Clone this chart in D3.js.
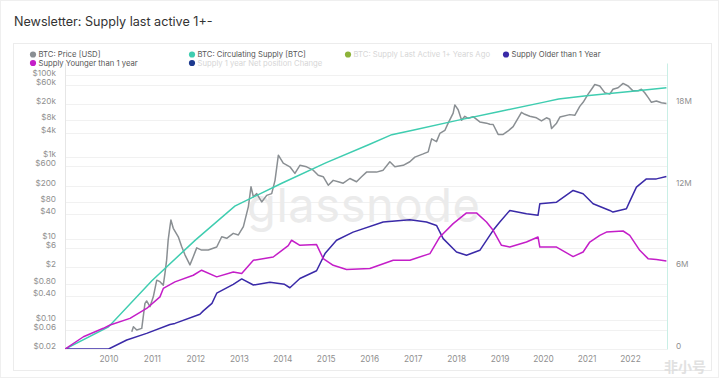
<!DOCTYPE html>
<html><head><meta charset="utf-8">
<script src="https://cdn.jsdelivr.net/npm/d3@7"></script>
<style>
html,body{margin:0;padding:0;background:#fff;}
svg{display:block;font-family:Inter,"Noto Sans",sans-serif;}
</style></head>
<body>
<svg id="chart" width="719" height="378"></svg>
<script>
// ---------- DATA ----------
const priceDates = ["2010-07-16","2010-07-30","2010-08-27","2010-10-08","2010-11-04","2010-11-18","2010-12-16","2011-01-13","2011-02-11","2011-03-10","2011-04-07","2011-04-21","2011-05-05","2011-05-18","2011-06-02","2011-06-10","2011-06-30","2011-08-11","2011-09-09","2011-10-07","2011-11-17","2011-12-15","2012-01-13","2012-02-23","2012-04-19","2012-06-29","2012-08-10","2012-09-21","2012-11-15","2012-12-28","2013-02-08","2013-03-22","2013-04-13","2013-05-03","2013-05-31","2013-07-12","2013-08-23","2013-10-04","2013-11-01","2013-11-29","2014-01-09","2014-03-06","2014-04-17","2014-05-29","2014-07-24","2014-09-18","2014-10-30","2014-12-11","2015-01-22","2015-03-05","2015-04-16","2015-05-28","2015-07-23","2015-09-17","2015-10-29","2015-12-10","2016-03-03","2016-04-28","2016-06-23","2016-08-04","2016-10-13","2016-12-08","2017-01-19","2017-03-30","2017-05-11","2017-06-09","2017-07-20","2017-08-17","2017-09-28","2017-10-26","2017-12-07","2017-12-21","2018-01-18","2018-02-16","2018-03-15","2018-04-12","2018-05-24","2018-07-19","2018-09-13","2018-10-11","2018-11-08","2018-12-20","2019-01-31","2019-03-14","2019-04-25","2019-07-04","2019-08-01","2019-09-12","2019-11-07","2019-12-19","2020-01-30","2020-02-27","2020-03-13","2020-04-24","2020-05-22","2020-08-13","2020-09-24","2020-11-05","2020-12-03","2021-01-14","2021-02-12","2021-03-11","2021-04-22","2021-06-03","2021-07-15","2021-08-11","2021-09-23","2021-11-04","2021-12-16","2022-01-26","2022-03-09","2022-04-07","2022-05-05","2022-06-02","2022-06-30","2022-08-11","2022-09-22","2022-11-03"];
const priceUSD = [0.053,0.07,0.0585,0.064,0.263,0.30,0.217,0.38,0.97,0.89,0.73,1.43,3.0,9.3,19.8,28.8,18.1,11.2,6.4,4.0,2.3,3.64,6.0,5.3,5.3,6.3,11.2,10.3,13.6,12.4,19.8,61.6,188,107,128,80,116,128,270,1120,710,580,400,630,580,480,360,332,205,270,250,230,300,250,330,430,430,480,770,580,630,770,1000,1200,1350,2800,2400,3800,4500,6800,12000,19000,14500,8000,10000,8940,9800,7300,6800,6400,6300,3600,3600,4370,5600,12500,11200,10000,9200,7700,9200,8450,5000,6800,9600,11000,10600,17500,22000,35000,46000,60000,55200,38000,35000,46000,50200,64000,55200,42000,42000,46000,37800,29000,22000,23700,21500,20500];

const circDates = ["2009-01-03","2010-01-01","2011-01-01","2012-01-01","2012-11-28","2014-01-01","2015-01-01","2016-01-01","2016-07-09","2017-01-01","2018-01-01","2019-01-01","2020-01-01","2020-05-11","2021-01-01","2022-01-01","2022-11-03"];
const circSupply = [0,1.62,5.02,8.0,10.5,12.2,13.68,15.03,15.75,16.08,16.78,17.45,18.12,18.375,18.6,18.92,19.2];

const olderDates = ["2009-01-03","2010-01-03","2010-06-04","2010-11-18","2011-06-02","2011-07-14","2012-02-09","2012-03-08","2012-05-20","2012-06-29","2012-11-15","2013-01-25","2013-05-03","2013-09-19","2014-01-20","2014-03-06","2014-05-29","2014-10-16","2014-12-26","2015-04-02","2015-08-19","2016-04-28","2016-12-08","2017-04-27","2017-07-20","2017-09-14","2018-01-04","2018-03-29","2018-07-19","2018-11-08","2019-01-03","2019-03-28","2019-08-15","2019-11-20","2019-12-05","2020-04-24","2020-09-10","2020-12-03","2021-02-25","2021-07-15","2021-08-11","2021-12-02","2021-12-30","2022-02-24","2022-05-19","2022-08-11","2022-11-03"];
const olderSupply = [0,0,0.66,1.15,1.8,1.88,2.55,2.8,3.35,4.1,4.75,5.15,4.7,4.9,4.75,4.5,5.18,5.75,7.01,7.99,8.59,9.33,9.5,9.33,9.08,8.11,7.13,6.89,7.25,8.72,9.33,10.18,9.94,9.82,10.67,10.79,11.65,11.41,10.67,10.18,10.06,10.3,10.85,11.89,12.5,12.5,12.67];

const youngerDates = ["2009-01-03","2009-06-05","2009-11-19","2010-01-15","2010-07-01","2010-11-18","2011-03-10","2011-04-07","2011-07-14","2011-12-15","2012-02-23","2012-06-29","2012-11-15","2013-01-25","2013-05-03","2013-10-17","2014-02-20","2014-03-20","2014-05-29","2014-10-16","2014-12-11","2015-03-05","2015-06-25","2016-01-07","2016-07-21","2016-12-08","2017-05-26","2017-08-17","2017-12-07","2018-03-29","2018-06-21","2018-09-13","2018-11-08","2019-01-17","2019-03-28","2019-08-15","2019-11-20","2019-12-05","2020-04-24","2020-09-10","2020-12-03","2021-01-28","2021-04-22","2021-06-17","2021-11-04","2021-12-30","2022-03-24","2022-06-02","2022-08-11","2022-11-03"];
const youngerSupply = [0,0.9,1.52,1.76,2.25,2.98,3.83,4.45,4.93,5.42,5.79,5.3,5.66,5.55,6.52,6.76,7.6,7.99,7.62,7.67,6.64,6.15,5.84,5.91,6.52,6.52,7.01,8.23,9.21,10.0,10.0,9.33,8.72,7.62,7.49,7.86,8.23,7.49,7.49,6.79,7.13,7.86,8.35,8.59,8.67,8.35,7.25,6.64,6.57,6.47];

const leftTickValues = [100000,60000,20000,8000,4000,1000,600,200,80,40,10,6,2,0.8,0.4,0.1,0.06,0.02];
const leftTickLabels = ["$100k","$60k","$20k","$8k","$4k","$1k","$600","$200","$80","$40","$10","$6","$2","$0.80","$0.40","$0.10","$0.06","$0.02"];
const rightTickValues = [0,6,12,18];
const rightTickLabels = ["0","6M","12M","18M"];
const xTickYears = [2010,2011,2012,2013,2014,2015,2016,2017,2018,2019,2020,2021,2022];

const legendItems = [
  {name:"BTC: Price [USD]", color:"#8a8f93", faded:false},
  {name:"BTC: Circulating Supply [BTC]", color:"#3fcdb0", faded:false},
  {name:"BTC: Supply Last Active 1+ Years Ago", color:"#8db33a", faded:true},
  {name:"Supply Older than 1 Year", color:"#3a2aa8", faded:false},
  {name:"Supply Younger than 1 year", color:"#c41ec8", faded:false},
  {name:"Supply 1 year Net position Change", color:"#1d3a8f", faded:true}
];

// ---------- LAYOUT ----------
const svg = d3.select("#chart");
const W = 719, H = 378;
const plot = {left:65, right:667, top:63, bottom:349};
const parse = d3.timeParse("%Y-%m-%d");

svg.append("rect").attr("x",0.5).attr("y",0.5).attr("width",W-1).attr("height",H-1)
  .attr("fill","#fff").attr("stroke","#efefef");
svg.append("rect").attr("x",13.5).attr("y",43.5).attr("width",698).attr("height",327)
  .attr("fill","#fff").attr("stroke","#ececec");

svg.append("text").attr("x",14).attr("y",26).attr("font-size",12.6).attr("fill","#333")
  .text("Newsletter: Supply last active 1+-");

const x = d3.scaleTime().domain([parse("2009-01-01"), parse("2022-11-08")]).range([plot.left, plot.right]);
const yP = d3.scaleLog().domain([0.02, 0.02*Math.pow(10,(plot.bottom-plot.top)/40.83)]).range([plot.bottom, plot.top]);
const yS = d3.scaleLinear().domain([0, 6*(plot.bottom-plot.top)/(2*40.83)]).range([plot.bottom, plot.top]);

// gridlines
svg.append("g").selectAll("line").data(leftTickValues).join("line")
  .attr("x1",plot.left).attr("x2",plot.right)
  .attr("y1",d=>Math.round(yP(d))+0.5).attr("y2",d=>Math.round(yP(d))+0.5)
  .attr("stroke","#f1f1f1").attr("stroke-width",1);

// watermark
svg.append("text").attr("x",247).attr("y",222)
  .attr("font-size",47).attr("fill","#ebebeb").attr("font-weight",400)
  .attr("textLength",233).attr("lengthAdjust","spacing").text("glassnode");

// left axis
const leftAxis = d3.axisLeft(yP).tickValues(leftTickValues)
  .tickFormat((d,i)=>leftTickLabels[i]).tickSize(0).tickPadding(9);
const gl = svg.append("g").attr("transform",`translate(${plot.left},0)`).call(leftAxis);
gl.select(".domain").attr("stroke","#e6e6e6");
gl.selectAll("text").attr("font-size",8.2).attr("fill","#8f8f8f").attr("font-family","Inter,sans-serif").attr("dy","-0.05em");

// right axis
const rightAxis = d3.axisRight(yS).tickValues(rightTickValues)
  .tickFormat((d,i)=>rightTickLabels[i]).tickSize(0).tickPadding(9);
const gr = svg.append("g").attr("transform",`translate(${plot.right},0)`).call(rightAxis);
gr.select(".domain").attr("stroke","#c9efe6");
gr.selectAll("text").attr("font-size",8.2).attr("fill","#8f8f8f").attr("font-family","Inter,sans-serif").attr("dy","-0.05em");

// bottom axis
const xAxis = d3.axisBottom(x).tickValues(xTickYears.map(y=>new Date(y,0,1)))
  .tickFormat(d3.timeFormat("%Y")).tickSize(0).tickPadding(7);
const gx = svg.append("g").attr("transform",`translate(0,${plot.bottom})`).call(xAxis);
gx.select(".domain").remove();
gx.selectAll("text").attr("font-size",8.3).attr("fill","#8f8f8f").attr("font-family","Inter,sans-serif");

// clip
svg.append("clipPath").attr("id","clip").append("rect")
  .attr("x",plot.left).attr("y",plot.top).attr("width",plot.right-plot.left).attr("height",plot.bottom-plot.top);
const g = svg.append("g").attr("clip-path","url(#clip)");

const linePrice = d3.line().x((d,i)=>x(parse(priceDates[i]))).y(d=>yP(d));
const lineSupply = dates => d3.line().x((d,i)=>x(parse(dates[i]))).y(d=>yS(d));

g.append("path").datum(priceUSD).attr("d",linePrice).attr("fill","none")
  .attr("stroke","#8a8f93").attr("stroke-width",1.5).attr("stroke-linejoin","round");
g.append("path").datum(circSupply).attr("d",lineSupply(circDates)).attr("fill","none")
  .attr("stroke","#3fcdb0").attr("stroke-width",1.5);
g.append("path").datum(olderSupply).attr("d",lineSupply(olderDates)).attr("fill","none")
  .attr("stroke","#3a2aa8").attr("stroke-width",1.5).attr("stroke-linejoin","round");
g.append("path").datum(youngerSupply).attr("d",lineSupply(youngerDates)).attr("fill","none")
  .attr("stroke","#c41ec8").attr("stroke-width",1.5).attr("stroke-linejoin","round");

// legend
const legendPos = [[33,54.5],[192,54.5],[348,54.5],[506,54.5],[33,63],[192,63]];
const lg = svg.append("g");
legendItems.forEach((it,i)=>{
  const [lx,ly] = legendPos[i];
  lg.append("circle").attr("cx",lx).attr("cy",ly).attr("r",3.1).attr("fill",it.color);
  lg.append("text").attr("x",lx+5.5).attr("y",ly+2.7).attr("font-size",7.7)
    .attr("fill",it.faded?"#d6d6d6":"#555").text(it.name);
});

// site watermark bottom-right
svg.append("text").attr("x",706).attr("y",372).attr("text-anchor","end")
  .attr("font-size",14).attr("font-weight",700).attr("fill","#dcdcdc").attr("opacity",0.85)
  .attr("font-family","'Noto Sans CJK SC',sans-serif").text("非小号");
</script>
</body></html>
